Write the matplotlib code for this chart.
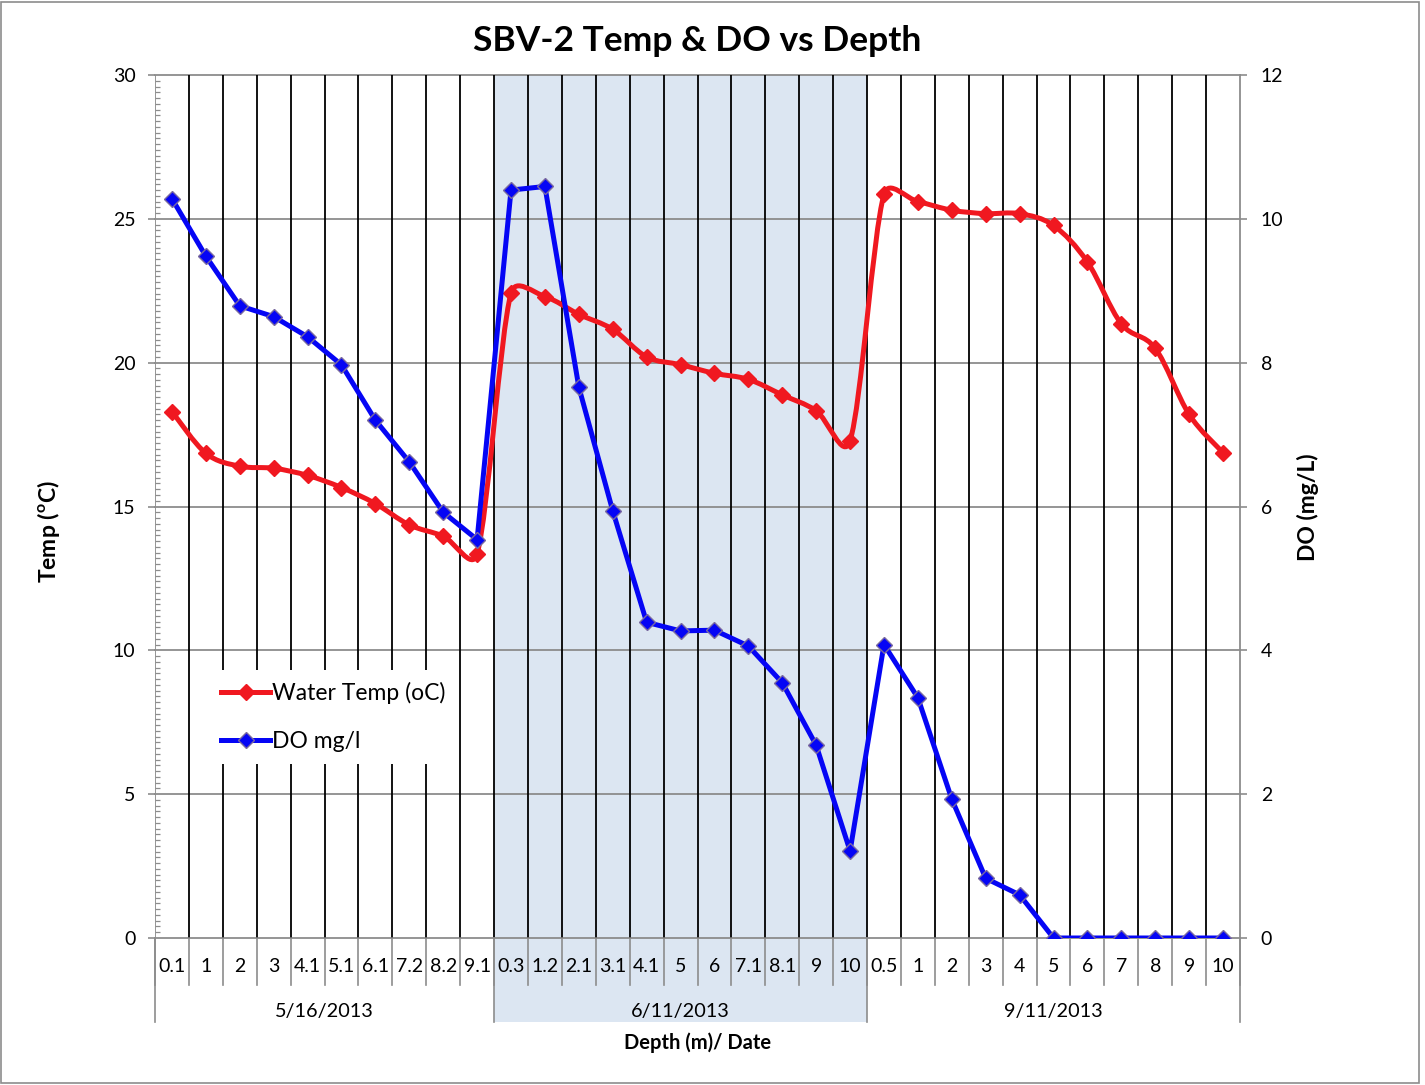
import numpy as np
import matplotlib
matplotlib.use('Agg')
import matplotlib.pyplot as plt
from matplotlib.path import Path
from matplotlib.patches import PathPatch, Rectangle
from matplotlib.lines import Line2D
import matplotlib.transforms as mtransforms
from matplotlib.ticker import MultipleLocator

plt.rcParams['font.family'] = ['Lato', 'DejaVu Sans']

# ---------------- data ----------------
dates = ['5/16/2013', '6/11/2013', '9/11/2013']
depths_may = ['0.1', '1', '2', '3', '4.1', '5.1', '6.1', '7.2', '8.2', '9.1']
depths_jun = ['0.3', '1.2', '2.1', '3.1', '4.1', '5', '6', '7.1', '8.1', '9', '10']
depths_sep = ['0.5', '1', '2', '3', '4', '5', '6', '7', '8', '9', '10']

temp_may = [18.3, 16.85, 16.4, 16.33, 16.08, 15.66, 15.1, 14.36, 13.97, 13.35]
temp_jun = [22.42, 22.3, 21.68, 21.16, 20.2, 19.93, 19.63, 19.42, 18.88, 18.33, 17.28]
temp_sep = [25.85, 25.6, 25.3, 25.18, 25.18, 24.77, 23.5, 21.35, 20.5, 18.2, 16.87]

do_may = [10.28, 9.48, 8.79, 8.64, 8.36, 7.97, 7.2, 6.62, 5.92, 5.54]
do_jun = [10.4, 10.45, 7.66, 5.94, 4.39, 4.27, 4.28, 4.06, 3.55, 2.68, 1.21]
do_sep = [4.08, 3.34, 1.93, 0.83, 0.6, 0.0, 0.0, 0.0, 0.0, 0.0, 0.0]

temp_name = 'Water Temp (oC)'
do_name = 'DO mg/l'

groups = [depths_may, depths_jun, depths_sep]
labels = depths_may + depths_jun + depths_sep
temp = np.array(temp_may + temp_jun + temp_sep)
do = np.array(do_may + do_jun + do_sep)
x = np.arange(len(labels), dtype=float)

RED = '#f01820'
BLUE = '#0505f5'
GRAY = '#8c8c8c'
SHADE = '#dce6f2'

W, H = 1425, 1085
L, R, T, B = 155, 1240, 75, 938
n = len(labels)


def smooth_path(xs, ys, sx, sy, clamp=0.5):
    """Excel-like smoothed line: cubic Bezier segments whose control arms
    are limited relative to the segment length (computed in pixel space)."""
    P = np.column_stack([np.asarray(xs) * sx, np.asarray(ys) * sy])
    m = len(P)
    tang = []
    for i in range(m):
        a = P[i - 1] if i > 0 else P[i]
        b = P[i + 1] if i < m - 1 else P[i]
        tang.append((b - a) / 6.0)
    verts = [P[0]]
    codes = [Path.MOVETO]
    for i in range(m - 1):
        seg = np.hypot(*(P[i + 1] - P[i]))
        t1 = tang[i].copy()
        t2 = tang[i + 1].copy()
        for t in (t1, t2):
            ln = np.hypot(*t)
            if ln > clamp * seg and ln > 0:
                t *= clamp * seg / ln
        verts += [P[i] + t1, P[i + 1] - t2, P[i + 1]]
        codes += [Path.CURVE4] * 3
    V = np.array(verts)
    V[:, 0] /= sx
    V[:, 1] /= sy
    return Path(V, codes)


fig = plt.figure(figsize=(W / 100, H / 100), dpi=100)
ax = fig.add_axes([L / W, 1 - B / H, (R - L) / W, (B - T) / H])
ax2 = ax.twinx()

ax.set_xlim(-0.5, n - 0.5)
ax.set_ylim(0, 30)
ax2.set_ylim(0, 12)

trans = mtransforms.blended_transform_factory(ax.transData, ax.transAxes)

# shaded June block (extends into the category label area)
bottom_ext = -(1022 - 938) / (B - T)
start = len(depths_may) - 0.5
ax.add_patch(Rectangle((start, bottom_ext), len(depths_jun), 1 - bottom_ext,
                       transform=trans, facecolor=SHADE, edgecolor='none',
                       zorder=0, clip_on=False))

# horizontal gridlines
for yv in range(0, 31, 5):
    ax.axhline(yv, color=GRAY, lw=1.3, zorder=1, clip_on=False)

# vertical category gridlines
for b in np.arange(0.5, n - 1, 1.0):
    ax.axvline(b, color='black', lw=1.3, zorder=1)

# ticks below the axis
cat_ext = -(985 - 938) / (B - T)
for b in np.arange(-0.5, n, 1.0):
    ax.plot([b, b], [0, cat_ext], transform=trans, color=GRAY, lw=1.2,
            clip_on=False, zorder=1)
grp_bounds = [-0.5, len(depths_may) - 0.5, len(depths_may) + len(depths_jun) - 0.5, n - 0.5]
for b in grp_bounds:
    ax.plot([b, b], [0, bottom_ext], transform=trans, color=GRAY, lw=1.2,
            clip_on=False, zorder=1)

# category labels
for xi, lab in zip(x, labels):
    ax.text(xi, -(967 - 938) / (B - T), lab, transform=trans, ha='center',
            va='center', fontsize=14, color='black')
# group labels
for gi, (g, d) in enumerate(zip(groups, dates)):
    c = (grp_bounds[gi] + grp_bounds[gi + 1]) / 2
    ax.text(c, -(1011 - 938) / (B - T), d, transform=trans, ha='center',
            va='center', fontsize=14.3, color='black')

fig.text((L + R) / 2 / W, 1 - 1043 / H, 'Depth (m)/ Date', ha='center',
         va='center', fontsize=14.5, fontweight='bold')

# temperature line (smoothed)
sx = (R - L) / n
sy = (B - T) / 30.0
ax.add_patch(PathPatch(smooth_path(x, temp, sx, sy), fill=False, edgecolor=RED,
                       lw=3.6, zorder=3, capstyle='round', joinstyle='round'))
ax.plot(x, temp, ls='none', marker='D', ms=8.5, mfc=RED, mec=RED, zorder=4)

# DO line
ax2.plot(x, do, color=BLUE, lw=3.6, marker='D', ms=8.5, mfc=BLUE, mec='#7a6aa0',
         mew=1.0, zorder=3, solid_joinstyle='round')

# axes styling
ax.set_xticks([])
for s in ['top', 'bottom', 'left', 'right']:
    ax.spines[s].set_visible(False)
for s in ['top', 'bottom', 'left']:
    ax2.spines[s].set_visible(False)
ax2.spines['right'].set_color(GRAY)
ax2.spines['right'].set_linewidth(1.3)
ax.axvline(-0.5, color=GRAY, lw=1.3, zorder=2)

ax.yaxis.set_major_locator(MultipleLocator(5))
ax.yaxis.set_minor_locator(MultipleLocator(0.2))
ax.tick_params(axis='y', which='major', direction='out', length=5, width=1.2,
               color=GRAY, labelsize=14, pad=9)
ax.tick_params(axis='y', which='minor', direction='in', length=3.5, width=0.9,
               color=GRAY)
ax2.yaxis.set_major_locator(MultipleLocator(2))
ax2.tick_params(axis='y', which='major', direction='out', length=5, width=1.2,
                color=GRAY, labelsize=14, pad=10)

fig.text(48 / W, 1 - 532 / H, r'Temp ($^{\mathregular{o}}$C)', rotation=90,
         ha='center', va='center', fontsize=16.5, fontweight='bold')
fig.text(1308 / W, 1 - 507 / H, 'DO (mg/L)', rotation=90, ha='center',
         va='center', fontsize=16.5, fontweight='bold')

fig.text((L + R) / 2 / W, 1 - 41 / H, 'SBV-2 Temp & DO vs Depth', ha='center',
         va='center', fontsize=25.5, fontweight='bold')

# legend
h1 = Line2D([], [], color=RED, lw=3.6, marker='D', ms=8.5, mfc=RED, mec=RED)
h2 = Line2D([], [], color=BLUE, lw=3.6, marker='D', ms=8.5, mfc=BLUE, mec='#7a6aa0')
leg = ax2.legend([h1, h2], [temp_name, do_name], loc='upper left',
                 bbox_to_anchor=((210 - L) / (R - L), (B - 670) / (B - T)),
                 frameon=True, fontsize=16.5, handlelength=2.1, handletextpad=0.1,
                 labelspacing=1.2, borderpad=0.5, borderaxespad=0)
leg.get_frame().set_facecolor('white')
leg.get_frame().set_edgecolor('none')
leg.get_frame().set_alpha(1)
leg.get_frame().set_boxstyle('square', pad=0)
leg.set_zorder(10)

# outer chart border
fig.patches.append(Rectangle((1 / W, 2 / H), 1418 / W, 1081 / H, transform=fig.transFigure,
                             fill=False, edgecolor=GRAY, lw=1.2))

fig.savefig('out.png', dpi=100)
